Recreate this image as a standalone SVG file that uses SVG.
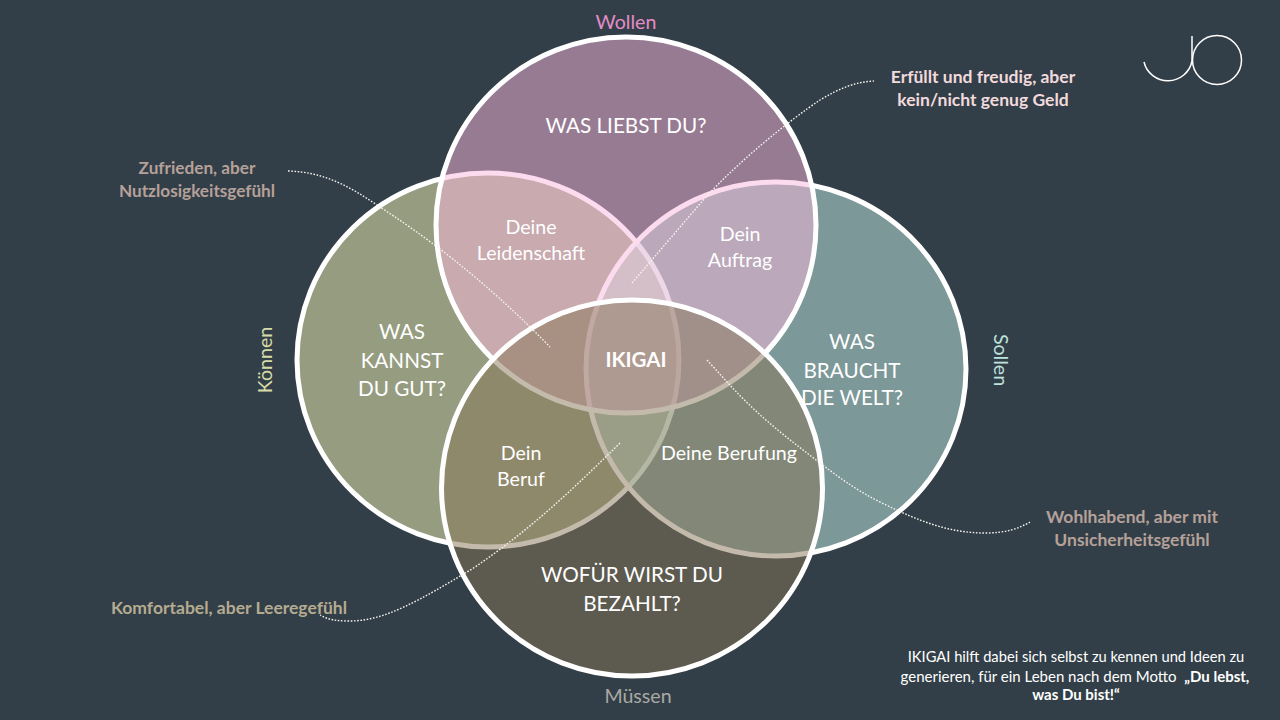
<svg xmlns="http://www.w3.org/2000/svg" width="1280" height="720" viewBox="0 0 1280 720">
<style>
text{font-family:"Lato","Carlito","Liberation Sans",sans-serif;text-anchor:middle;fill:#fff}
.c{stroke:#fff;stroke-width:5}
.h{font-size:20.700px}
.s{font-size:19.600px}
.n{font-size:20.500px;font-weight:700}
.d{font-size:14.700px}
.b{font-size:17.500px;font-weight:700}
.l{fill:none;stroke:#f4f4ee;stroke-width:1.400;stroke-dasharray:1.600 1.600}
</style>
<rect width="1280" height="720" fill="#333f48"/>
<g id="logo" fill="none" stroke="#fff" stroke-width="1.500">
<path d="M1144 62A24.500 24 0 0 0 1192 61V36"/>
<circle cx="1217" cy="60" r="24.500"/>
</g>
<g id="koennen"><ellipse class="c" cx="488" cy="360" rx="191" ry="187" fill="#f9f9b8" fill-opacity=".5"/>
<text class="h" x="402" y="339">WAS</text><text class="h" x="402" y="368">KANNST</text><text class="h" x="402" y="396">DU GUT?</text></g>
<g id="sollen"><ellipse class="c" cx="776" cy="369" rx="190" ry="187" fill="#c5f1e8" fill-opacity=".5"/>
<text class="h" x="852" y="349">WAS</text><text class="h" x="852" y="378">BRAUCHT</text><text class="h" x="852" y="405">DIE WELT?</text></g>
<g id="wollen"><ellipse class="c" cx="626" cy="225" rx="190" ry="188" fill="#f9b7de" fill-opacity=".5"/>
<text class="h" x="626" y="133">WAS LIEBST DU?</text></g>
<g id="muessen"><ellipse class="c" cx="632" cy="488" rx="190.500" ry="188" fill="#877558" fill-opacity=".5"/>
<text class="h" x="632" y="582">WOFÜR WIRST DU</text><text class="h" x="632" y="611">BEZAHLT?</text></g>
<g id="leidenschaft"><text class="s" x="531" y="234">Deine</text><text class="s" x="531" y="260">Leidenschaft</text></g>
<g id="auftrag"><text class="s" x="740" y="241">Dein</text><text class="s" x="740" y="267">Auftrag</text></g>
<g id="beruf"><text class="s" x="521" y="460">Dein</text><text class="s" x="521" y="486">Beruf</text></g>
<g id="berufung"><text class="s" x="729" y="460">Deine Berufung</text></g>
<g id="ikigai"><text class="n" x="636" y="367">IKIGAI</text></g>
<g id="connectors">
<path class="l" d="M288 171C325 172 350 187 377 205C420 233 480 275 550 347"/>
<path class="l" d="M632 283L705 198C740 160 790 120 820 100C840 88 855 82 874 81"/>
<path class="l" d="M707 360L728 383C760 418 790 440 820 463C845 482 860 492 880 502C920 522 950 533 985 533C1005 533 1018 529 1030 522"/>
<path class="l" d="M620 443C570 492 530 530 472 569C420 600 385 621 350 621C338 621 328 620 320 615"/>
</g>
<g id="labels">
<text class="s" x="626" y="29" style="fill:#e58cc6">Wollen</text>
<text class="s" x="638" y="703" style="fill:#a9a9a3">Müssen</text>
<text class="s" transform="translate(272 360) rotate(-90)" style="fill:#d7dca6">Können</text>
<text class="s" transform="translate(994 360) rotate(90)" style="fill:#bfe2dc">Sollen</text>
<text class="b" x="983" y="83" style="fill:#f2dadd">Erfüllt und freudig, aber</text><text class="b" x="983" y="106" style="fill:#f2dadd">kein/nicht genug Geld</text>
<text class="b" x="197" y="174" style="fill:#b5a199;font-size:17.200px">Zufrieden, aber</text><text class="b" x="197" y="197" style="fill:#b5a199;font-size:17.200px">Nutzlosigkeitsgefühl</text>
<text class="b" x="1132" y="523" style="fill:#b5a199">Wohlhabend, aber mit</text><text class="b" x="1132" y="546" style="fill:#b5a199">Unsicherheitsgefühl</text>
<text class="b" x="229" y="614" style="fill:#b5ab90">Komfortabel, aber Leeregefühl</text>
<text class="d" x="1076" y="662">IKIGAI hilft dabei sich selbst zu kennen und Ideen zu</text>
<text class="d" x="1075" y="682" style="font-size:15px;white-space:pre">generieren, für ein Leben nach dem Motto  <tspan font-weight="700">„Du lebst,</tspan></text>
<text class="d" x="1076" y="700" font-weight="700" style="font-size:15px">was Du bist!“</text>
</g>
</svg>
